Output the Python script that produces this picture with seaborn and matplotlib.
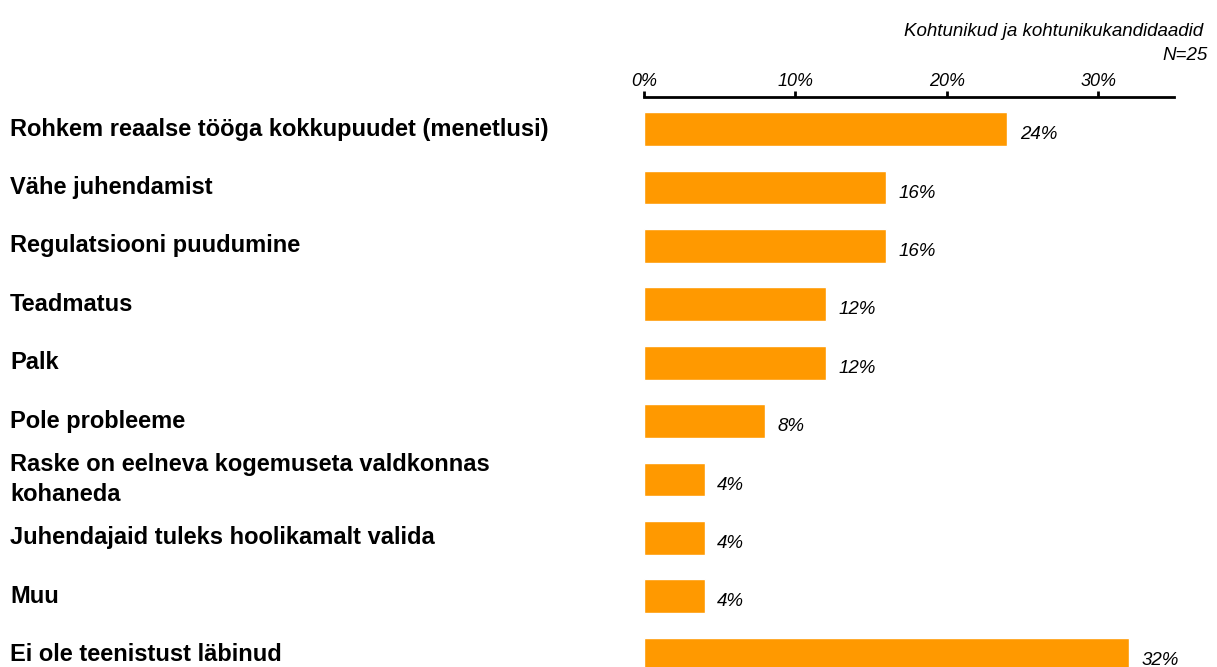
import numpy as np
import pandas as pd
import matplotlib
matplotlib.use('Agg')
import matplotlib.pyplot as plt
import matplotlib.transforms as mtransforms
import seaborn as sns

# 数据
categories = [
    'Rohkem reaalse tööga kokkupuudet (menetlusi)',
    'Vähe juhendamist',
    'Regulatsiooni puudumine',
    'Teadmatus',
    'Palk',
    'Pole probleeme',
    'Raske on eelneva kogemuseta valdkonnas\nkohaneda',
    'Juhendajaid tuleks hoolikamalt valida',
    'Muu',
    'Ei ole teenistust läbinud',
]
values = [24, 16, 16, 12, 12, 8, 4, 4, 4, 32]
tick_values = [0, 10, 20, 30]
tick_labels = ['0%', '10%', '20%', '30%']
header_text = 'Kohtunikud ja kohtunikukandidaadid'
n_text = 'N=25'

sns.set_style('white')
plt.rcParams['font.family'] = ['Liberation Sans', 'DejaVu Sans']
plt.rcParams['text.color'] = 'black'
plt.rcParams['xtick.color'] = 'black'

df = pd.DataFrame({'cat': categories, 'val': values})

fig = plt.figure(figsize=(12.17, 6.67), dpi=100)
ax = fig.add_axes([644 / 1217, 0.0, (1174 - 644) / 1217, 1 - 97 / 667])

sns.barplot(data=df, x='val', y='cat', orient='h', color='#FF9900',
            width=0.58, saturation=1, ax=ax)

ax.set_xlim(0, 35)
ax.set_ylim(9.21, -0.55)

# 顶部坐标轴
ax.xaxis.set_ticks_position('top')
ax.xaxis.set_label_position('top')
ax.set_xticks(tick_values)
ax.set_xticklabels(tick_labels, fontsize=13, style='italic')
ax.tick_params(axis='x', direction='out', length=4, width=2, color='black', pad=1)
ax.set_xlabel('')
ax.set_ylabel('')
ax.set_yticks([])
for s in ['left', 'right', 'bottom']:
    ax.spines[s].set_visible(False)
ax.spines['top'].set_linewidth(2)
ax.spines['top'].set_color('black')

# 类别标签（左对齐）
trans = mtransforms.blended_transform_factory(fig.transFigure, ax.transData)
for i, c in enumerate(categories):
    ax.text(10 / 1217, i, c, transform=trans, ha='left', va='center',
            fontsize=17, fontweight='bold', linespacing=1.35, clip_on=False)

# 数值标签
for i, v in enumerate(values):
    ax.annotate(f'{v}%', xy=(v, i), xytext=(9, -4), textcoords='offset points',
                ha='left', va='center', fontsize=13.5, style='italic',
                annotation_clip=False)

fig.text(1203 / 1217, 1 - 31 / 667, header_text, ha='right', va='center',
         fontsize=13.5, style='italic')
fig.text(1208 / 1217, 1 - 56 / 667, n_text, ha='right', va='center',
         fontsize=13.5, style='italic')

fig.savefig('out.png', dpi=100)
